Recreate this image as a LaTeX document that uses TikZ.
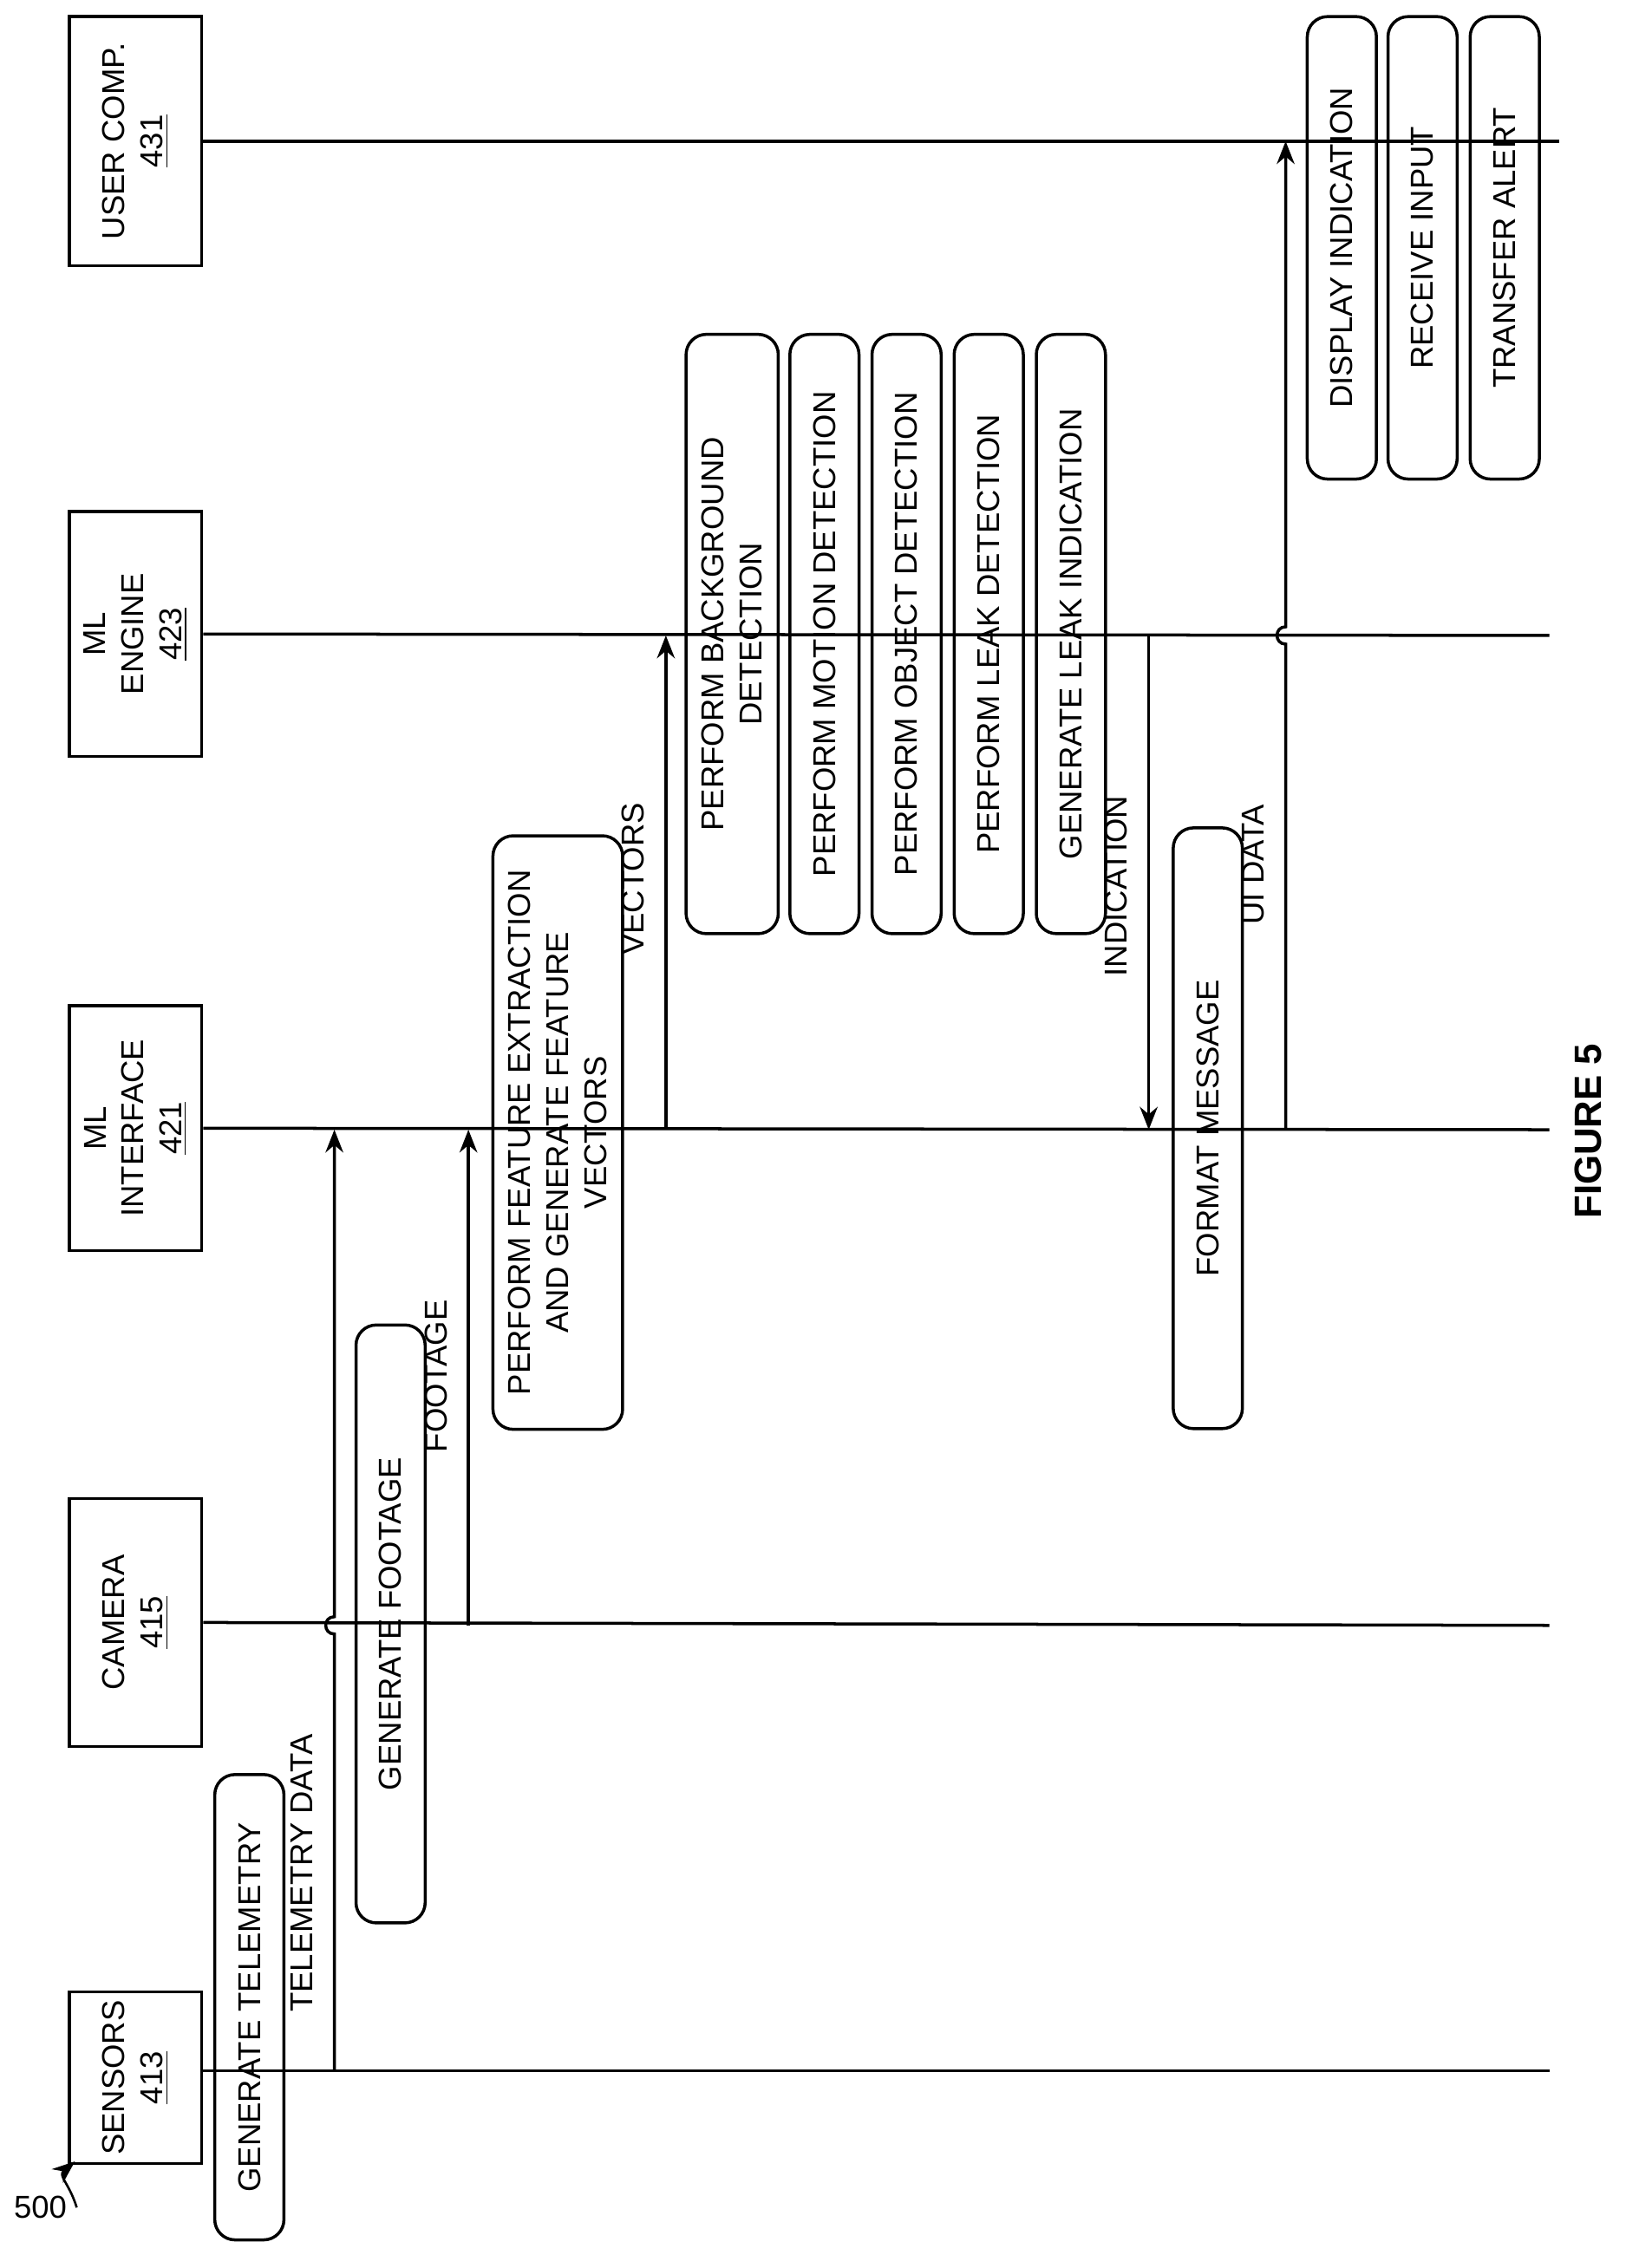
\documentclass[tikz,border=0pt]{standalone}
\usepackage{fontspec}
\setmainfont{Liberation Sans}
\usetikzlibrary{arrows.meta}
\begin{document}
\begin{tikzpicture}[x=0.02cm,y=-0.02cm,line width=1.2pt,>={Stealth[length=9pt,width=7pt]},
    font=\fontsize{12.5}{15}\selectfont]
  \tikzset{
    head/.style={draw,rotate=90,align=center,minimum height=1.84cm},
    act/.style={draw,rounded corners=8pt,rotate=90,align=center,minimum height=0.96cm},
    lbl/.style={rotate=90,anchor=south}
  }
  \useasboundingbox (0,0) rectangle (1128,1574);

  % lifeline heads
  \node[head,minimum width=2.3cm]  (sen) at (94,1442) {SENSORS\\\underline{413}};
  \node[head,minimum width=3.44cm] (cam) at (94,1126) {CAMERA\\\underline{415}};
  \node[head,minimum width=3.4cm]  (mli) at (94,783)  {ML\\INTERFACE\\\underline{421}};
  \node[head,minimum width=3.4cm]  (mle) at (94,440)  {ML\\ENGINE\\\underline{423}};
  \node[head,minimum width=3.46cm] (usr) at (94,98)   {USER COMP.\\\underline{431}};

  % lifelines
  \coordinate (senE) at (1075,1437);
  \coordinate (camE) at (1075,1128);
  \coordinate (mliE) at (1075,784);
  \coordinate (mleE) at (1075,441);
  \coordinate (usrE) at (1075,98);
  \draw (sen.south) ++(0,-5) -- (senE);
  \draw (cam.south) -- (camE);
  \draw (mli.south) -- (mliE);
  \draw (mle.south) -- (mleE);
  \draw (usr.south) -- (usrE);
  \draw[dashed,dash pattern=on 4pt off 5pt] (usrE) -- ++(10,0);

  % activities
  \node[act,minimum width=6.46cm] (tel)  at (173,1393) {GENERATE TELEMETRY};
  \node[act,minimum width=8.3cm]  (foot) at (271,1127) {GENERATE FOOTAGE};
  \node[act,minimum width=8.24cm,minimum height=1.8cm] (feat) at (387,786)
       {PERFORM FEATURE EXTRACTION\\AND GENERATE FEATURE\\VECTORS};
  \node[act,minimum width=8.32cm,minimum height=1.28cm] (bg) at (508,440)
       {PERFORM BACKGROUND\\DETECTION};
  \node[act,minimum width=8.32cm] (mot)  at (572,440) {PERFORM MOTION DETECTION};
  \node[act,minimum width=8.32cm] (obj)  at (629,440) {PERFORM OBJECT DETECTION};
  \node[act,minimum width=8.32cm] (leak) at (686,440) {PERFORM LEAK DETECTION};
  \node[act,minimum width=8.32cm] (gen)  at (743,440) {GENERATE LEAK INDICATION};
  \node[act,minimum width=8.34cm] (fmt)  at (838,783) {FORMAT MESSAGE};
  \node[act,minimum width=6.42cm] (disp) at (931,172) {DISPLAY INDICATION};
  \node[act,minimum width=6.42cm] (recv) at (987,172) {RECEIVE INPUT};
  \node[act,minimum width=6.42cm] (xfer) at (1044,172) {TRANSFER ALERT};

  % messages
  \coordinate (t0) at (232,1437);
  \coordinate (t1) at (232,784);
  \draw[->] (t0) -- (232,1134) .. controls (224,1134) and (224,1122) .. (232,1122) -- (t1);
  \node[lbl] (telL) at (224,1300) {TELEMETRY DATA};

  \coordinate (f0) at (325,1128);
  \coordinate (f1) at (325,784);
  \draw[->] (f0) -- (f1);
  \node[lbl] (footL) at (317,955) {FOOTAGE};

  \coordinate (v0) at (462,784);
  \coordinate (v1) at (462,441);
  \draw[->] (v0) -- (v1);
  \node[lbl] (vecL) at (454,610) {VECTORS};

  \coordinate (i0) at (797,441);
  \coordinate (i1) at (797,784);
  \draw[->] (i0) -- (i1);
  \node[lbl] (indL) at (789,615) {INDICATION};

  \coordinate (u0) at (892,784);
  \coordinate (u1) at (892,98);
  \draw[->] (u0) -- (892,447) .. controls (884,447) and (884,435) .. (892,435) -- (u1);
  \node[lbl] (uiL) at (884,600) {UI DATA};

  % figure labels
  \node (num) at (28,1532) {500};
  \draw[->,line width=0.9pt] (num.east) .. controls (48,1515) and (40,1510) .. (52,1500);
  \node[rotate=90,font=\fontsize{15}{18}\selectfont\bfseries] (fig) at (1102,785) {FIGURE 5};
\end{tikzpicture}
\end{document}
